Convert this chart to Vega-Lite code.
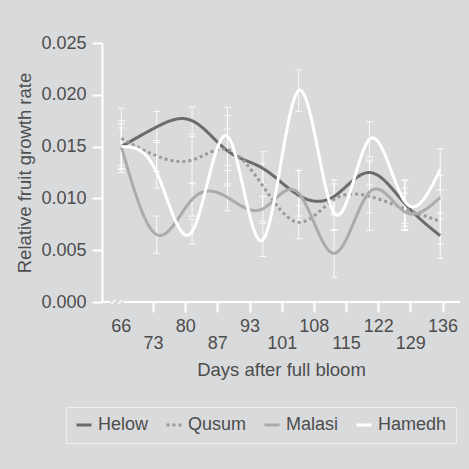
{
  "$schema": "https://vega.github.io/schema/vega-lite/v6.json",
  "width": 358,
  "height": 259,
  "autosize": {"type": "none"},
  "padding": {"left": 102, "top": 43, "right": 9, "bottom": 167},
  "background": "#d9dadc",
  "config": {
    "view": {"stroke": null},
    "font": "Liberation Sans",
    "axis": {
      "labelFont": "Liberation Sans",
      "titleFont": "Liberation Sans",
      "labelFontSize": 18,
      "titleFontSize": 18.5,
      "labelColor": "#4d4d4d",
      "titleColor": "#4d4d4d",
      "titleFontWeight": "normal",
      "grid": false,
      "labelOverlap": false,
      "domainColor": "#ffffff",
      "domainWidth": 2,
      "tickColor": "#ffffff",
      "tickWidth": 2,
      "tickSize": 10
    },
    "legend": {
      "labelFont": "Liberation Sans",
      "labelFontSize": 18,
      "labelColor": "#4d4d4d"
    }
  },
  "resolve": {"axis": {"x": "independent"}},
  "data": {
    "values": [
      {"Day": 66.1, "Cultivar": "Helow", "Rate": 0.0150, "Low": 0.0128, "High": 0.0172},
      {"Day": 73.8, "Cultivar": "Helow", "Rate": 0.0169, "Low": 0.0154, "High": 0.0184},
      {"Day": 81.5, "Cultivar": "Helow", "Rate": 0.0175, "Low": 0.0162, "High": 0.0188},
      {"Day": 89.2, "Cultivar": "Helow", "Rate": 0.0146, "Low": 0.0112, "High": 0.0180},
      {"Day": 96.9, "Cultivar": "Helow", "Rate": 0.0129, "Low": 0.0113, "High": 0.0145},
      {"Day": 104.7, "Cultivar": "Helow", "Rate": 0.0103, "Low": 0.0079, "High": 0.0127},
      {"Day": 112.4, "Cultivar": "Helow", "Rate": 0.0102, "Low": 0.0086, "High": 0.0118},
      {"Day": 120.1, "Cultivar": "Helow", "Rate": 0.0125, "Low": 0.0113, "High": 0.0137},
      {"Day": 127.8, "Cultivar": "Helow", "Rate": 0.0095, "Low": 0.0073, "High": 0.0117},
      {"Day": 135.5, "Cultivar": "Helow", "Rate": 0.0064, "Low": 0.0042, "High": 0.0086},
      {"Day": 66.1, "Cultivar": "Qusum", "Rate": 0.0158, "Low": 0.0129, "High": 0.0187},
      {"Day": 73.8, "Cultivar": "Qusum", "Rate": 0.0141, "Low": 0.0126, "High": 0.0156},
      {"Day": 81.5, "Cultivar": "Qusum", "Rate": 0.0137, "Low": 0.0114, "High": 0.0160},
      {"Day": 89.2, "Cultivar": "Qusum", "Rate": 0.0147, "Low": 0.0127, "High": 0.0167},
      {"Day": 96.9, "Cultivar": "Qusum", "Rate": 0.0112, "Low": 0.0090, "High": 0.0134},
      {"Day": 104.7, "Cultivar": "Qusum", "Rate": 0.0077, "Low": 0.0061, "High": 0.0093},
      {"Day": 112.4, "Cultivar": "Qusum", "Rate": 0.0099, "Low": 0.0084, "High": 0.0114},
      {"Day": 120.1, "Cultivar": "Qusum", "Rate": 0.0102, "Low": 0.0069, "High": 0.0135},
      {"Day": 127.8, "Cultivar": "Qusum", "Rate": 0.0090, "Low": 0.0070, "High": 0.0110},
      {"Day": 135.5, "Cultivar": "Qusum", "Rate": 0.0078, "Low": 0.0056, "High": 0.0100},
      {"Day": 66.1, "Cultivar": "Malasi", "Rate": 0.0150, "Low": 0.0132, "High": 0.0168},
      {"Day": 73.8, "Cultivar": "Malasi", "Rate": 0.0065, "Low": 0.0047, "High": 0.0083},
      {"Day": 81.5, "Cultivar": "Malasi", "Rate": 0.0099, "Low": 0.0083, "High": 0.0115},
      {"Day": 89.2, "Cultivar": "Malasi", "Rate": 0.0101, "Low": 0.0088, "High": 0.0114},
      {"Day": 96.9, "Cultivar": "Malasi", "Rate": 0.0090, "Low": 0.0078, "High": 0.0102},
      {"Day": 104.7, "Cultivar": "Malasi", "Rate": 0.0105, "Low": 0.0083, "High": 0.0127},
      {"Day": 112.4, "Cultivar": "Malasi", "Rate": 0.0047, "Low": 0.0024, "High": 0.0070},
      {"Day": 120.1, "Cultivar": "Malasi", "Rate": 0.0106, "Low": 0.0086, "High": 0.0126},
      {"Day": 127.8, "Cultivar": "Malasi", "Rate": 0.0087, "Low": 0.0069, "High": 0.0105},
      {"Day": 135.5, "Cultivar": "Malasi", "Rate": 0.0101, "Low": 0.0080, "High": 0.0122},
      {"Day": 66.1, "Cultivar": "Hamedh", "Rate": 0.0150, "Low": 0.0125, "High": 0.0175},
      {"Day": 73.8, "Cultivar": "Hamedh", "Rate": 0.0125, "Low": 0.0110, "High": 0.0140},
      {"Day": 81.5, "Cultivar": "Hamedh", "Rate": 0.0068, "Low": 0.0056, "High": 0.0080},
      {"Day": 89.2, "Cultivar": "Hamedh", "Rate": 0.0160, "Low": 0.0132, "High": 0.0188},
      {"Day": 96.9, "Cultivar": "Hamedh", "Rate": 0.0060, "Low": 0.0044, "High": 0.0076},
      {"Day": 104.7, "Cultivar": "Hamedh", "Rate": 0.0204, "Low": 0.0184, "High": 0.0224},
      {"Day": 112.4, "Cultivar": "Hamedh", "Rate": 0.0086, "Low": 0.0069, "High": 0.0103},
      {"Day": 120.1, "Cultivar": "Hamedh", "Rate": 0.0157, "Low": 0.0140, "High": 0.0174},
      {"Day": 127.8, "Cultivar": "Hamedh", "Rate": 0.0097, "Low": 0.0076, "High": 0.0118},
      {"Day": 135.5, "Cultivar": "Hamedh", "Rate": 0.0128, "Low": 0.0108, "High": 0.0148}
    ]
  },
  "layer": [
    {
      "mark": {"type": "errorbar", "ticks": true, "color": "#ffffff", "size": 7, "thickness": 1, "opacity": 0.85},
      "encoding": {
        "x": {
          "field": "Day", "type": "quantitative",
          "scale": {"domain": [61.9, 139.8], "nice": false, "zero": false},
          "axis": {
            "orient": "bottom",
            "title": "Days after full bloom",
            "domain": false,
            "values": [66, 80, 94, 108, 122, 136],
            "labelExpr": "datum.value == 94 ? '93' : datum.label",
            "labelPadding": 5,
            "tickOpacity": {"condition": {"test": "datum.value == 66", "value": 0}, "value": 1},
            "labelFlush": false,
            "labelOverlap": false,
            "titlePadding": 25
          }
        },
        "y": {
          "field": "Low", "type": "quantitative",
          "scale": {"domain": [0, 0.025], "nice": false},
          "axis": {
            "title": "Relative fruit growth rate",
            "values": [0, 0.005, 0.01, 0.015, 0.02, 0.025],
            "format": ".3f",
            "labelPadding": 6,
            "titlePadding": 6
          }
        },
        "y2": {"field": "High"}
      }
    },
    {
      "mark": {"type": "line", "interpolate": "natural", "strokeWidth": 3, "strokeCap": "butt"},
      "encoding": {
        "x": {
          "field": "Day", "type": "quantitative",
          "axis": {
            "orient": "bottom",
            "title": null,
            "domain": false,
            "values": [73, 87, 101, 115, 129],
            "labelPadding": 22,
            "labelFlush": false,
            "labelOverlap": false
          }
        },
        "y": {"field": "Rate", "type": "quantitative"},
        "color": {
          "field": "Cultivar", "type": "nominal",
          "scale": {"domain": ["Helow", "Qusum", "Malasi", "Hamedh"], "range": ["#6b6b6b", "#9a9a9a", "#ababab", "#ffffff"]},
          "legend": {
            "title": null,
            "orient": "none",
            "direction": "horizontal",
            "legendX": -36,
            "legendY": 364,
            "symbolType": "stroke",
            "symbolSize": 225,
            "symbolStrokeWidth": 3,
            "labelOffset": 5,
            "columnPadding": 11,
            "padding": 9,
            "strokeColor": "#eeeeee",
            "labelFontSize": 18
          }
        },
        "strokeDash": {
          "field": "Cultivar", "type": "nominal",
          "scale": {"domain": ["Helow", "Qusum", "Malasi", "Hamedh"], "range": [[1, 0], [3, 3], [1, 0], [1, 0]]},
          "legend": null
        }
      }
    },
    {
      "data": {"values": [{"Day": 61.9, "DayEnd": 63.7}, {"Day": 66.6, "DayEnd": 139.8}]},
      "mark": {"type": "rule", "color": "#ffffff", "strokeWidth": 2},
      "encoding": {
        "x": {"field": "Day", "type": "quantitative", "axis": null},
        "x2": {"field": "DayEnd"},
        "y": {"datum": 0}
      }
    },
    {
      "data": {"values": [{"Day": 63.9, "DayEnd": 64.8}, {"Day": 65.4, "DayEnd": 66.3}]},
      "mark": {"type": "rule", "color": "#ffffff", "strokeWidth": 1.5},
      "encoding": {
        "x": {"field": "Day", "type": "quantitative", "axis": null},
        "x2": {"field": "DayEnd"},
        "y": {"datum": -0.0002},
        "y2": {"datum": 0.0002}
      }
    }
  ]
}
